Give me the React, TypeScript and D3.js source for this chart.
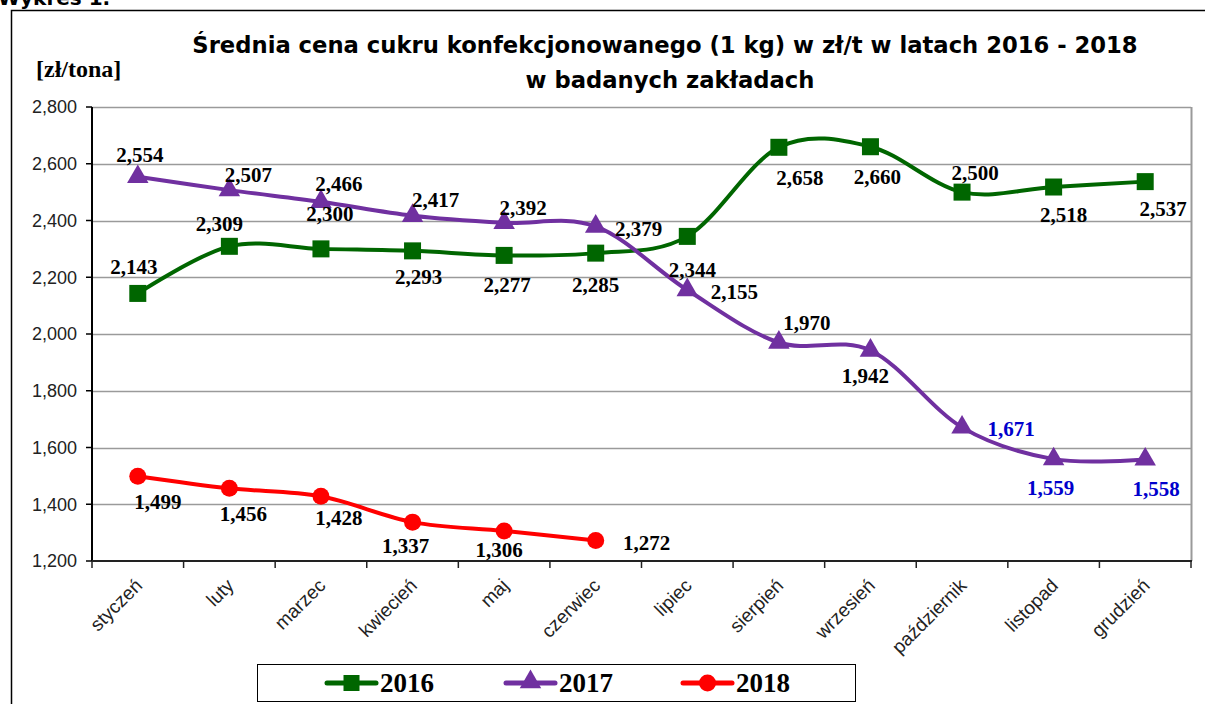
import React from 'react';
import * as d3 from 'd3';

// months (x categories)
const months = ['styczeń', 'luty', 'marzec', 'kwiecień', 'maj', 'czerwiec', 'lipiec', 'sierpień', 'wrzesień', 'październik', 'listopad', 'grudzień'];

// average price [zł/tona]
const values2016 = [2143, 2309, 2300, 2293, 2277, 2285, 2344, 2658, 2660, 2500, 2518, 2537];
const values2017 = [2554, 2507, 2466, 2417, 2392, 2379, 2155, 1970, 1942, 1671, 1559, 1558];
const values2018 = [1499, 1456, 1428, 1337, 1306, 1272];

const yTicks = [1200, 1400, 1600, 1800, 2000, 2200, 2400, 2600, 2800];

// where each data label sits relative to its point (centre offsets in px)
const labelOff2016: [number, number][] = [[-4, -27], [-10, -23], [9, -35], [6, 26], [3, 29], [0, 32], [5, 33], [21, 30], [7, 30], [13, -19], [10, 28], [18, 27]];
const labelOff2017: [number, number][] = [[2, -22], [19, -15], [18, -18], [23, -16], [19, -15], [43, 2], [47, 2], [28, -20], [-5, 25], [49, 1], [-3, 29], [11, 29]];
const labelOff2018: [number, number][] = [[20, 25], [14, 25], [18, 21], [-7, 24], [-5, 19], [51, 2]];
const blueLabels2017 = [9, 10, 11];

const W = 1205;
const H = 704;
const plot = { left: 92, right: 1191, top: 107, bottom: 561 };

const green = '#006600';
const purple = '#7030A0';
const red = '#FF0000';

const x = d3.scaleBand<string>().domain(months).range([plot.left, plot.right]);
const y = d3.scaleLinear().domain([1200, 2800]).range([plot.bottom, plot.top]);
const fmt = d3.format(',');

const cx = (i: number) => (x(months[i]) as number) + x.bandwidth() / 2;

const line = d3.line<number>()
  .x((_, i) => cx(i))
  .y(d => y(d))
  .curve(d3.curveCardinal.tension(0));

const tri = d3.symbol().type(d3.symbolTriangle).size(200)();

const Square = ({ px, py, s = 17 }: { px: number; py: number; s?: number }) => (
  <rect x={px - s / 2} y={py - s / 2} width={s} height={s} fill={green} />
);
const Tri = ({ px, py }: { px: number; py: number }) => (
  <path d={tri as string} transform={`translate(${px},${py})`} fill={purple} />
);
const Dot = ({ px, py }: { px: number; py: number }) => (
  <circle cx={px} cy={py} r={8.5} fill={red} />
);

const labelFont = "'Liberation Serif', 'Times New Roman', serif";
const axisFont = "'Liberation Sans', Arial, sans-serif";
const titleFont = "'DejaVu Sans', sans-serif";

export default function App() {
  return (
    <svg width={W} height={H} style={{ position: 'absolute', left: 0, top: 0, background: '#fff' }}>
      <rect x={0} y={0} width={W} height={H} fill="#fff" />
      <text x={-2} y={5} fontFamily={titleFont} fontWeight="bold" fontSize={20}>Wykres 1.</text>

      {/* outer frame */}
      <path d={`M11.5,${H + 5} V10.5 H${W + 5}`} fill="none" stroke="#000" strokeWidth={1.5} />

      {/* title */}
      <text x={665} y={53} textAnchor="middle" fontFamily={titleFont} fontWeight="bold" fontSize={22.7}>
        Średnia cena cukru konfekcjonowanego (1 kg) w zł/t w latach 2016 - 2018
      </text>
      <text x={670} y={88} textAnchor="middle" fontFamily={titleFont} fontWeight="bold" fontSize={22.7}>
        w badanych zakładach
      </text>
      <text x={36} y={77} fontFamily={labelFont} fontWeight="bold" fontSize={24}>[zł/tona]</text>

      {/* grid */}
      {yTicks.slice(1).map(t => (
        <line key={t} x1={plot.left} x2={plot.right} y1={Math.round(y(t)) + 0.5} y2={Math.round(y(t)) + 0.5} stroke="#9a9a9a" strokeWidth={1.5} />
      ))}
      <line x1={plot.right + 0.5} x2={plot.right + 0.5} y1={plot.top} y2={plot.bottom} stroke="#9a9a9a" strokeWidth={2} />

      {/* y axis */}
      <line x1={plot.left} x2={plot.left} y1={plot.top} y2={plot.bottom} stroke="#000" strokeWidth={2} />
      {yTicks.map(t => (
        <g key={t}>
          <line x1={plot.left - 6} x2={plot.left} y1={y(t)} y2={y(t)} stroke="#000" strokeWidth={1.5} />
          <text x={77} y={y(t)} dy="0.35em" textAnchor="end" fontFamily={axisFont} fontSize={18} fill="#222">{fmt(t)}</text>
        </g>
      ))}

      {/* x axis */}
      <line x1={plot.left} x2={plot.right + 1} y1={plot.bottom} y2={plot.bottom} stroke="#222" strokeWidth={2} />
      {months.map(m => (
        <line key={'t' + m} x1={(x(m) as number)} x2={(x(m) as number)} y1={plot.bottom} y2={plot.bottom + 7} stroke="#222" strokeWidth={1.5} />
      ))}
      <line x1={plot.right} x2={plot.right} y1={plot.bottom} y2={plot.bottom + 7} stroke="#222" strokeWidth={1.5} />
      {months.map((m, i) => (
        <text key={m} transform={`translate(${cx(i) + 1},${plot.bottom + 21}) rotate(-45)`} dy="0.35em" textAnchor="end" fontFamily={axisFont} fontSize={19} fill="#222">{m}</text>
      ))}

      {/* series */}
      <path d={line(values2016) as string} fill="none" stroke={green} strokeWidth={4} />
      <path d={line(values2017) as string} fill="none" stroke={purple} strokeWidth={4} />
      <path d={line(values2018) as string} fill="none" stroke={red} strokeWidth={4} />

      {values2016.map((v, i) => <Square key={'s' + i} px={cx(i)} py={y(v)} />)}
      {values2017.map((v, i) => <Tri key={'p' + i} px={cx(i)} py={y(v)} />)}
      {values2018.map((v, i) => <Dot key={'r' + i} px={cx(i)} py={y(v)} />)}

      {/* data labels */}
      {values2016.map((v, i) => (
        <text key={'l6' + i} x={cx(i) + labelOff2016[i][0]} y={y(v) + labelOff2016[i][1]} dy="0.35em" textAnchor="middle" fontFamily={labelFont} fontWeight="bold" fontSize={21}>{fmt(v)}</text>
      ))}
      {values2017.map((v, i) => (
        <text key={'l7' + i} x={cx(i) + labelOff2017[i][0]} y={y(v) + labelOff2017[i][1]} dy="0.35em" textAnchor="middle" fontFamily={labelFont} fontWeight="bold" fontSize={21} fill={blueLabels2017.includes(i) ? '#0000CC' : '#000'}>{fmt(v)}</text>
      ))}
      {values2018.map((v, i) => (
        <text key={'l8' + i} x={cx(i) + labelOff2018[i][0]} y={y(v) + labelOff2018[i][1]} dy="0.35em" textAnchor="middle" fontFamily={labelFont} fontWeight="bold" fontSize={21}>{fmt(v)}</text>
      ))}

      {/* legend */}
      <rect x={257.5} y={664.5} width={598} height={37} fill="#fff" stroke="#000" strokeWidth={1} />
      {[
        { name: '2016', color: green, x0: 327, kind: 's' },
        { name: '2017', color: purple, x0: 506, kind: 't' },
        { name: '2018', color: red, x0: 683, kind: 'c' },
      ].map(l => (
        <g key={l.name}>
          <line x1={l.x0} x2={l.x0 + 49} y1={683} y2={683} stroke={l.color} strokeWidth={5} strokeLinecap="round" />
          {l.kind === 's' && <Square px={l.x0 + 24.5} py={683} s={16} />}
          {l.kind === 't' && <Tri px={l.x0 + 24.5} py={682} />}
          {l.kind === 'c' && <Dot px={l.x0 + 24.5} py={683} />}
          <text x={l.x0 + 53} y={692} fontFamily={labelFont} fontWeight="bold" fontSize={27}>{l.name}</text>
        </g>
      ))}
    </svg>
  );
}
